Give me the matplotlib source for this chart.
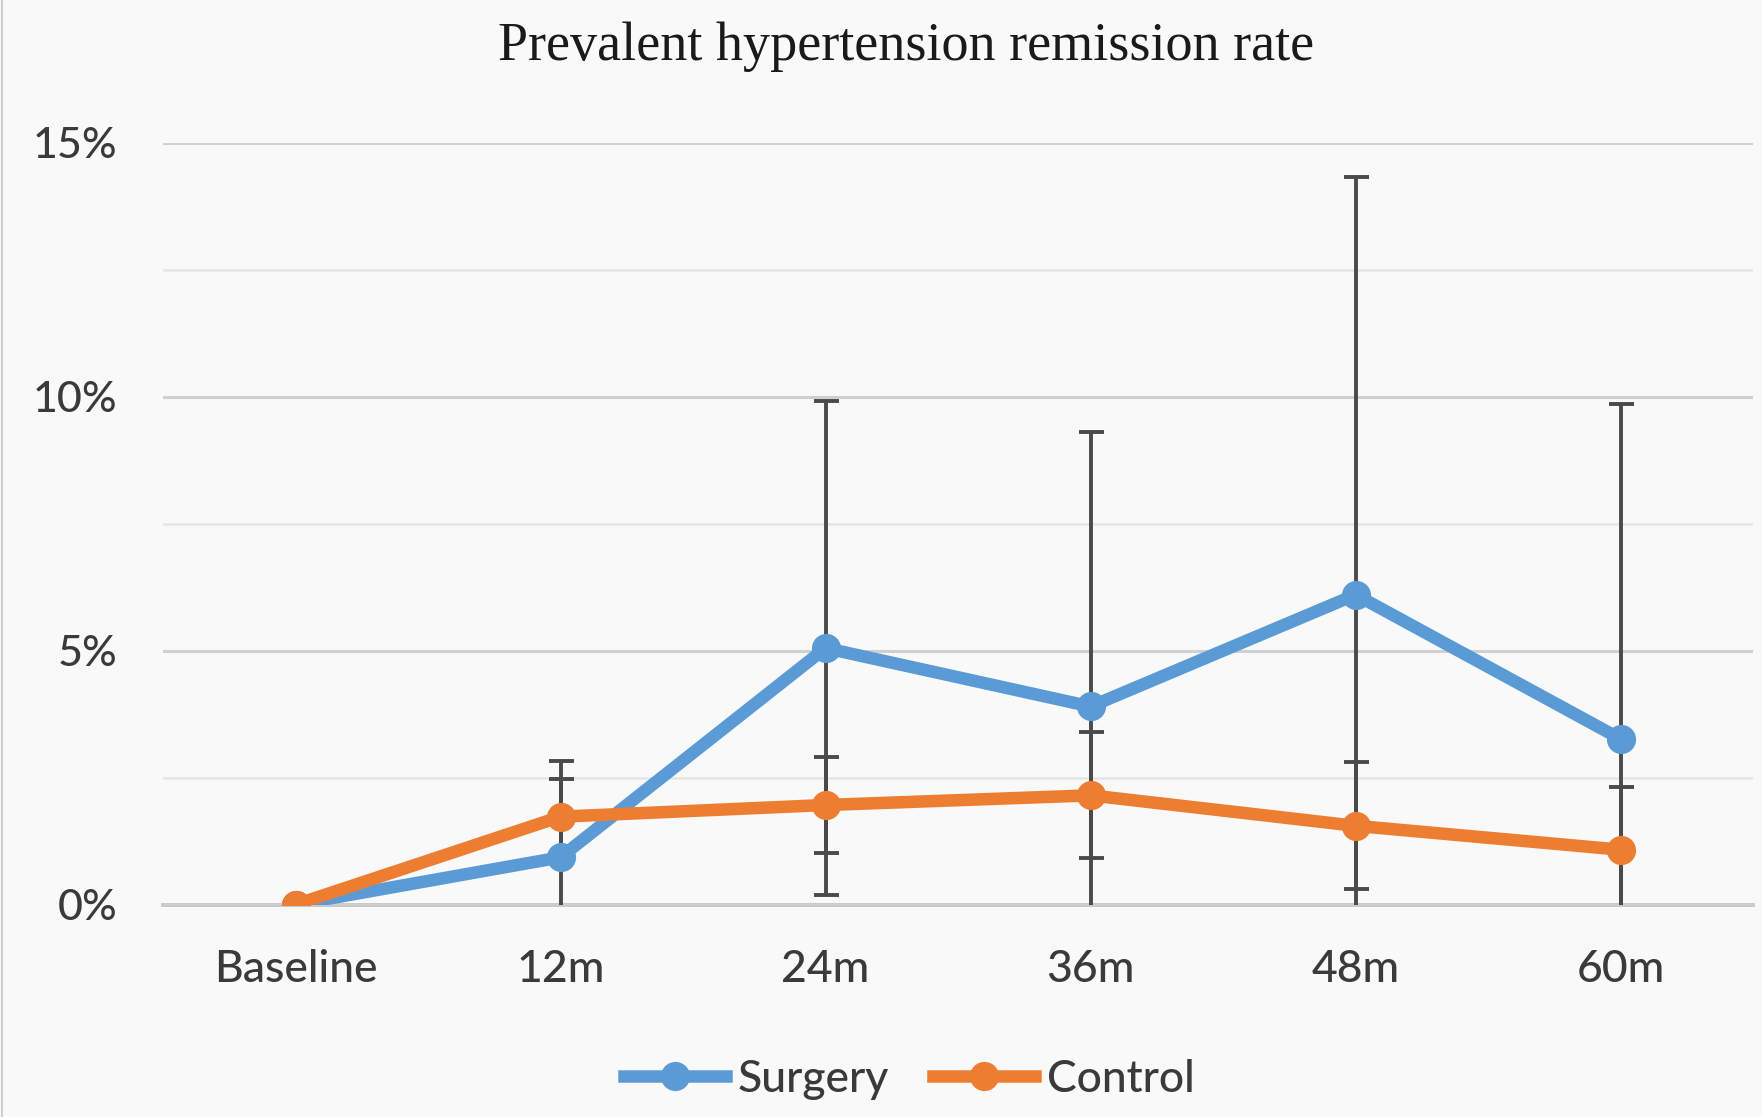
import matplotlib.pyplot as plt
from matplotlib.ticker import FuncFormatter
from matplotlib.lines import Line2D

# values (percent)
categories = ["Baseline", "12m", "24m", "36m", "48m", "60m"]
surgery = [0.0, 0.93, 5.05, 3.90, 6.10, 3.26]
surgery_err = [0.0, 1.90, 4.87, 5.40, 8.22, 6.60]
control = [0.0, 1.73, 1.96, 2.15, 1.55, 1.08]
control_err = [0.0, 0.74, 0.95, 1.24, 1.25, 1.23]
major_ticks = [0, 5, 10, 15]
minor_ticks = [2.5, 7.5, 12.5]

blue = "#5B9BD5"
orange = "#ED7D31"
bar_col = "#4a4a4a"
txt_col = "#3a3a3a"
bg = "#f9f9f9"

fig = plt.figure(figsize=(17.62, 11.17), dpi=100, facecolor=bg)
ax = fig.add_axes([0.0925, 0.1902, 0.9025, 0.682], facecolor=bg)

x = list(range(len(categories)))

# error bars first, series on top
ax.errorbar(x, surgery, yerr=surgery_err, fmt="none", ecolor=bar_col,
            elinewidth=2.8, capsize=9, capthick=2.8, zorder=2)
ax.errorbar(x, control, yerr=control_err, fmt="none", ecolor=bar_col,
            elinewidth=2.8, capsize=9, capthick=2.8, zorder=2)
ax.plot(x, surgery, color=blue, lw=9, marker="o", ms=20,
        solid_joinstyle="round", label="Surgery", zorder=3)
ax.plot(x, control, color=orange, lw=9, marker="o", ms=20,
        solid_joinstyle="round", label="Control", zorder=4)

ax.set_xlim(-0.5, len(categories) - 0.5)
ax.set_ylim(0, 15)
ax.set_xticks(x)
ax.set_xticklabels(categories)
ax.set_yticks(major_ticks)
ax.set_yticks(minor_ticks, minor=True)
ax.yaxis.set_major_formatter(FuncFormatter(lambda v, p: "%d%%" % v))

ax.grid(axis="y", which="major", color="#d0d0d0", lw=2.2, zorder=0)
ax.grid(axis="y", which="minor", color="#e6e6e6", lw=1.8, zorder=0)
ax.axhline(0, color="#c8c8c8", lw=2.8, zorder=1, clip_on=False)
for s in ax.spines.values():
    s.set_visible(False)
ax.tick_params(axis="both", which="both", length=0, labelcolor=txt_col)
ax.tick_params(axis="y", labelsize=31, pad=33)
ax.tick_params(axis="x", labelsize=32, pad=32)
for lab in ax.get_xticklabels() + ax.get_yticklabels():
    lab.set_family("Lato")
    lab.set_weight("medium")

fig.text(0.514, 0.958, "Prevalent hypertension remission rate",
         ha="center", va="center", fontsize=39, family="Liberation Serif",
         color="#1a1a1a")

fig.legend(loc="center", bbox_to_anchor=(0.516, 0.034), ncol=2,
           frameon=False, prop={"family": "Lato", "size": 32, "weight": "medium"},
           labelcolor=txt_col, handlelength=2.3, handletextpad=0.25,
           columnspacing=1.0)

fig.add_artist(Line2D([0.001, 0.001], [0.0, 1.0], color="#cfcfcf", lw=1.5,
                      transform=fig.transFigure))

fig.savefig("out.png", dpi=100, facecolor=bg)
